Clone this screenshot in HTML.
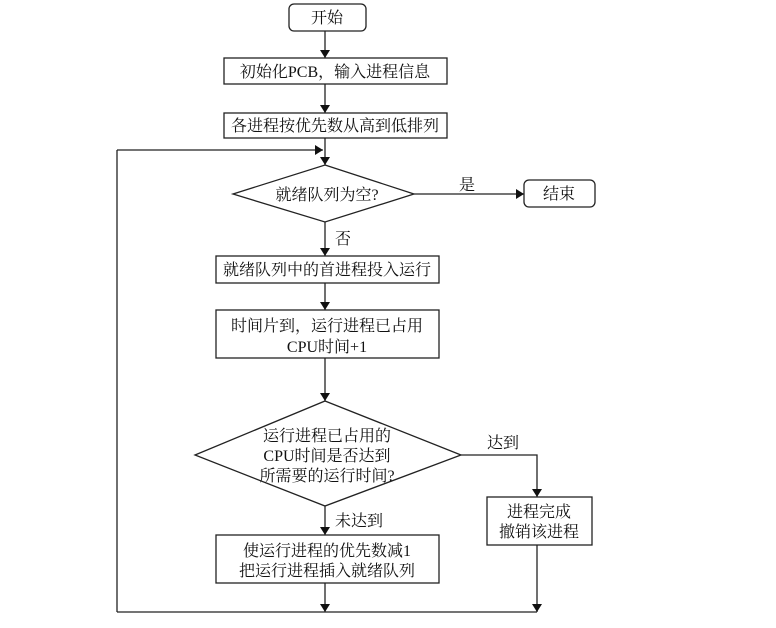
<!DOCTYPE html>
<html><head><meta charset="utf-8"><style>
html,body{margin:0;padding:0;background:#fff}
svg text{font-family:"Liberation Serif","Noto Serif CJK SC",serif;font-size:16px;fill:#111}
</style></head><body>
<svg width="776" height="623" viewBox="0 0 776 623" xmlns="http://www.w3.org/2000/svg">
<defs><marker id="a" markerWidth="8" markerHeight="10" refX="8" refY="5" orient="auto" markerUnits="userSpaceOnUse"><path d="M0,0 L8,5 L0,10 z" fill="#111"/></marker></defs>
<g fill="none" stroke="#222" stroke-width="1.3">
<rect x="289" y="4" width="77" height="27" rx="5"/>
<rect x="224" y="58" width="223" height="26"/>
<rect x="224" y="113" width="223" height="25"/>
<polygon points="325,165 414,194 325,222 233,194"/>
<rect x="524" y="180" width="71" height="27" rx="5"/>
<rect x="216" y="256" width="223" height="27"/>
<rect x="216" y="310" width="223" height="48"/>
<polygon points="325,401 461,455 325,506 195,455"/>
<rect x="487" y="497" width="105" height="48"/>
<rect x="216" y="535" width="223" height="48"/>
<line x1="325" y1="31" x2="325" y2="58" marker-end="url(#a)"/>
<line x1="325" y1="84" x2="325" y2="113" marker-end="url(#a)"/>
<line x1="325" y1="138" x2="325" y2="165" marker-end="url(#a)"/>
<polyline points="325,583 325,612" marker-end="url(#a)"/>
<polyline points="117,150 323,150" marker-end="url(#a)"/>
<polyline points="117,612 117,150"/>
<line x1="117" y1="612" x2="537" y2="612"/>
<line x1="414" y1="194" x2="524" y2="194" marker-end="url(#a)"/>
<line x1="325" y1="222" x2="325" y2="256" marker-end="url(#a)"/>
<line x1="325" y1="283" x2="325" y2="310" marker-end="url(#a)"/>
<line x1="325" y1="358" x2="325" y2="401" marker-end="url(#a)"/>
<line x1="325" y1="506" x2="325" y2="535" marker-end="url(#a)"/>
<polyline points="461,455 537,455 537,497" marker-end="url(#a)"/>
<line x1="537" y1="545" x2="537" y2="612" marker-end="url(#a)"/>
</g>
<g text-anchor="middle">
<text x="327" y="23">开始</text>
<text x="335" y="77">初始化PCB，输入进程信息</text>
<text x="335" y="131">各进程按优先数从高到低排列</text>
<text x="327" y="200">就绪队列为空?</text>
<text x="559" y="199">结束</text>
<text x="467" y="190">是</text>
<text x="343" y="244">否</text>
<text x="327" y="275">就绪队列中的首进程投入运行</text>
<text x="327" y="331">时间片到，运行进程已占用</text>
<text x="327" y="352">CPU时间+1</text>
<text x="327" y="441">运行进程已占用的</text>
<text x="327" y="461">CPU时间是否达到</text>
<text x="327" y="481">所需要的运行时间?</text>
<text x="503" y="448">达到</text>
<text x="359" y="526">未达到</text>
<text x="539" y="517">进程完成</text>
<text x="539" y="537">撤销该进程</text>
<text x="327" y="556">使运行进程的优先数减1</text>
<text x="327" y="576">把运行进程插入就绪队列</text>
</g>
</svg>
</body></html>
